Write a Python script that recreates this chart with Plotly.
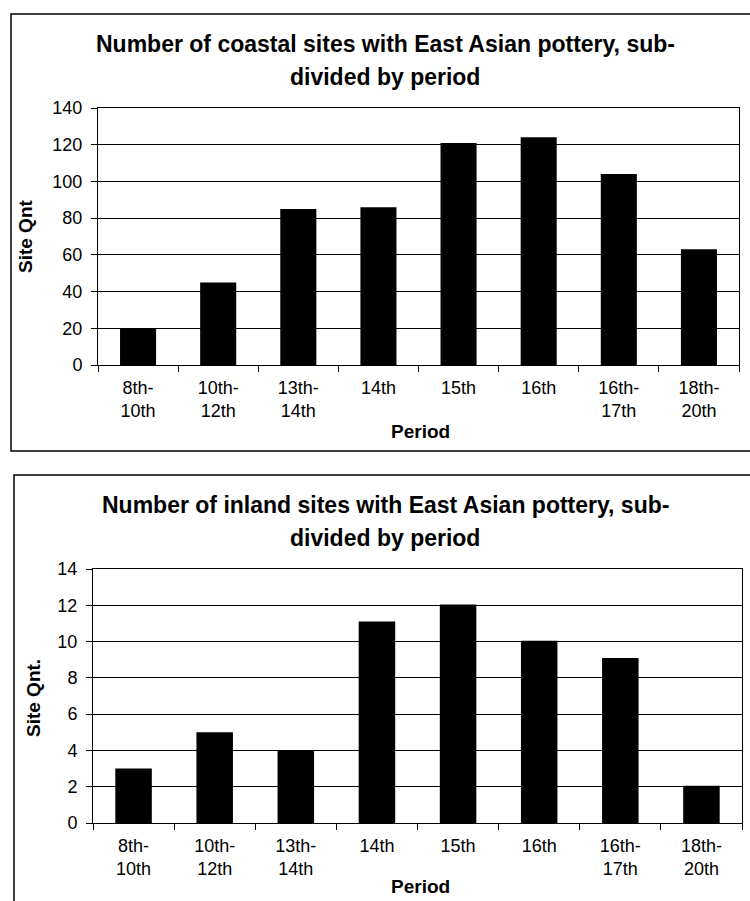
import plotly.graph_objects as go

periods = ["8th-<br>10th", "10th-<br>12th", "13th-<br>14th", "14th", "15th", "16th",
           "16th-<br>17th", "18th-<br>20th"]
coastal_sites = [20, 45, 85, 86, 121, 124, 104, 63]
inland_sites = [3, 5, 4, 11.1, 12.05, 10.05, 9.1, 2.05]

W, H = 750, 901
FONT = "Liberation Sans, Arial, sans-serif"


def px_x(v):
    return v / W


def px_y(v):
    return 1 - v / H


fig = go.Figure()
fig.add_trace(go.Bar(x=periods, y=coastal_sites, marker_color="black",
                     marker_line_width=0, xaxis="x", yaxis="y"))
fig.add_trace(go.Bar(x=periods, y=inland_sites, marker_color="black",
                     marker_line_width=0, xaxis="x2", yaxis="y2"))

xcommon = dict(type="category", showline=True, linecolor="black", linewidth=1,
               mirror=True, ticks="outside", ticklen=6, tickcolor="black",
               tickson="boundaries", showgrid=False, ticklabelstandoff=6,
               automargin=False,
               tickfont=dict(family=FONT, size=18, color="black"))
ycommon = dict(showline=True, linecolor="black", linewidth=1, mirror=True,
               ticks="outside", ticklen=6, tickcolor="black", showgrid=True,
               gridcolor="black", gridwidth=1, zeroline=False, automargin=False,
               ticklabelstandoff=5,
               tickfont=dict(family=FONT, size=18, color="black"))

fig.update_layout(
    width=W, height=H, margin=dict(l=0, r=0, t=0, b=0),
    paper_bgcolor="white", plot_bgcolor="white", showlegend=False,
    bargap=0.55,
    xaxis=dict(domain=[px_x(98), px_x(739)], anchor="y", **xcommon),
    yaxis=dict(domain=[px_y(365), px_y(108)], anchor="x", range=[0, 140], dtick=20,
               **ycommon),
    xaxis2=dict(domain=[px_x(93), px_x(742)], anchor="y2", **xcommon),
    yaxis2=dict(domain=[px_y(823), px_y(569)], anchor="x2", range=[0, 14], dtick=2,
                **ycommon),
)

title_font = dict(family=FONT, size=23, color="black")
label_font = dict(family=FONT, size=19, color="black")
annos = [
    ("<b>Number of coastal sites with East Asian pottery, sub-</b>", px_x(385), px_y(44), title_font, 0),
    ("<b>divided by period</b>", px_x(385), px_y(77), title_font, 0),
    ("<b>Site Qnt</b>", px_x(25), px_y(236), label_font, -90),
    ("<b>Period</b>", px_x(420), px_y(431), label_font, 0),
    ("<b>Number of inland sites with East Asian pottery, sub-</b>", px_x(385), px_y(505), title_font, 0),
    ("<b>divided by period</b>", px_x(385), px_y(538), title_font, 0),
    ("<b>Site Qnt.</b>", px_x(33), px_y(698), label_font, -90),
    ("<b>Period</b>", px_x(420), px_y(886), label_font, 0),
]
for text, x, y, f, ang in annos:
    fig.add_annotation(text=text, x=x, y=y, xref="paper", yref="paper",
                       showarrow=False, font=f, textangle=ang,
                       xanchor="center", yanchor="middle")

# chart frames
fig.add_shape(type="rect", xref="paper", yref="paper",
              x0=px_x(11), x1=1.02, y0=px_y(451), y1=px_y(14),
              line=dict(color="black", width=1.5))
fig.add_shape(type="rect", xref="paper", yref="paper",
              x0=px_x(14), x1=1.02, y0=-0.02, y1=px_y(475),
              line=dict(color="black", width=1.5))

fig.write_html("out.html", config={"displayModeBar": False},
               post_script="document.body.style.margin='0';")
